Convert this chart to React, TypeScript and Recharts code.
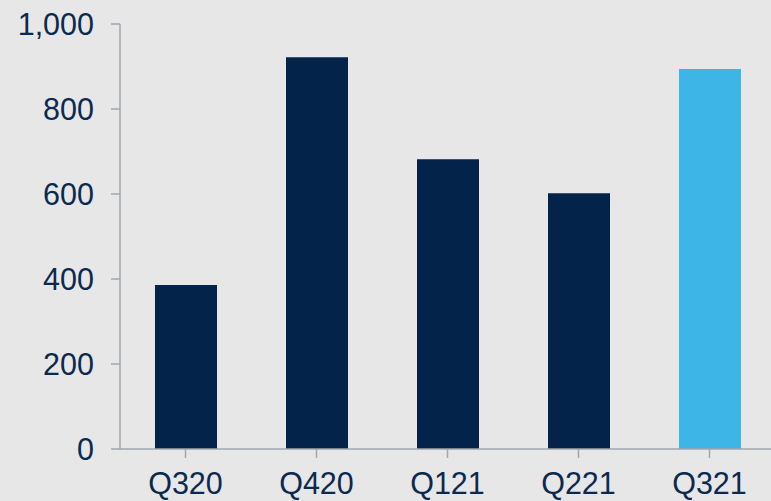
import React from 'react';
import { BarChart, Bar, XAxis, YAxis, Cell } from 'recharts';

const categories = ['Q320', 'Q420', 'Q121', 'Q221', 'Q321'];
const values = [386, 922, 682, 602, 894];
const barColors = ['#03234a', '#03234a', '#03234a', '#03234a', '#3db5e6'];
const yTicks = [0, 200, 400, 600, 800, 1000];

const data = categories.map((c, i) => ({ name: c, value: values[i] }));

const textStyle = { fill: '#0c2a50', fontSize: 30.5, fontFamily: 'Liberation Sans, Arial, sans-serif' };

export default function App() {
  return (
    <div style={{ position: 'absolute', left: 0, top: 0, width: 771, height: 501, background: '#e7e7e7', overflow: 'hidden' }}>
      <BarChart width={780} height={501} data={data} margin={{ top: 24, right: 5, left: 0, bottom: 0 }}>
        <XAxis
          dataKey="name"
          height={52}
          tick={textStyle}
          tickSize={9}
          tickMargin={14}
          axisLine={{ stroke: '#a2a6ad', strokeWidth: 1.5 }}
          tickLine={{ stroke: '#a2a6ad', strokeWidth: 1.5 }}
          interval={0}
        />
        <YAxis
          width={120}
          domain={[0, 1000]}
          ticks={yTicks}
          tick={textStyle}
          tickSize={9}
          tickMargin={17}
          tickFormatter={(v: number) => v.toLocaleString('en-US')}
          axisLine={{ stroke: '#a2a6ad', strokeWidth: 1.5 }}
          tickLine={{ stroke: '#a2a6ad', strokeWidth: 1.5 }}
          interval={0}
        />
        <Bar dataKey="value" barSize={62} isAnimationActive={false}>
          {data.map((d, i) => (
            <Cell key={d.name} fill={barColors[i]} />
          ))}
        </Bar>
      </BarChart>
    </div>
  );
}
